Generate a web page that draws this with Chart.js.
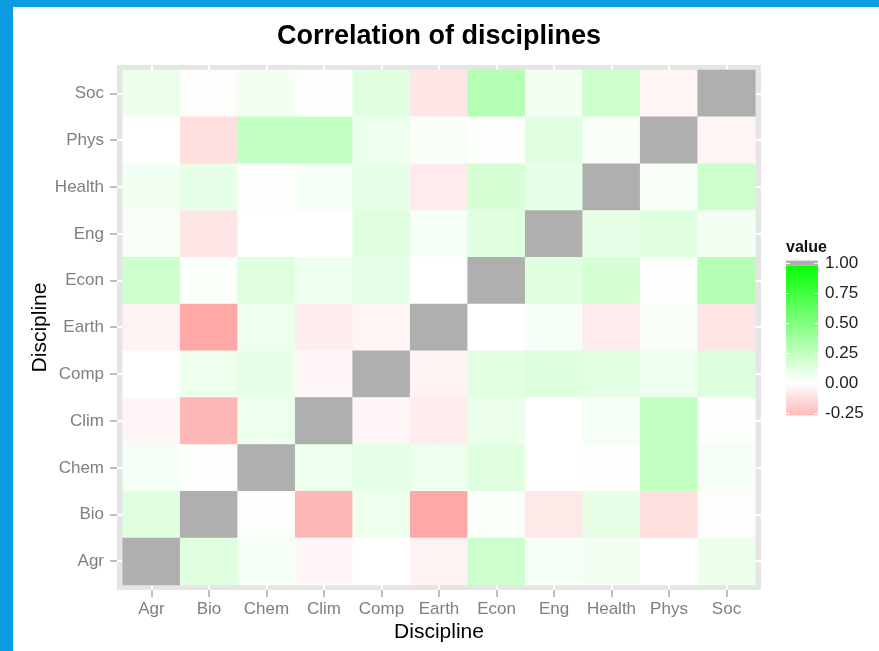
<!DOCTYPE html>
<html lang="en">
  <head>
    <meta charset="UTF-8" />
    <title>Correlation of disciplines</title>
    <script src="https://cdn.jsdelivr.net/npm/chart.js"></script>
    <style>
      body {
        margin: 0;
        padding: 0;
        background: #fff;
      }
      .frame {
        width: 866px;
        height: 644px;
        border-left: 13px solid #0a9be0;
        border-top: 7px solid #0a9be0;
      }
      canvas {
        display: block;
      }
    </style>
  </head>
  <body>
    <div class="frame"><canvas id="heat" width="866" height="644"></canvas></div>

    <script>
      const disciplines = ["Agr", "Bio", "Chem", "Clim", "Comp", "Earth", "Econ", "Eng", "Health", "Phys", "Soc"];

      // one row per discipline (y), columns in the same order (x); null = diagonal
      const agr    = [null, 0.12, 0.04, -0.03, 0.00, -0.05, 0.20, 0.04, 0.05, 0.00, 0.08];
      const bio    = [0.12, null, 0.01, -0.28, 0.07, -0.34, 0.02, -0.09, 0.10, -0.13, -0.01];
      const chem   = [0.04, 0.01, null, 0.07, 0.10, 0.07, 0.12, 0.00, 0.01, 0.24, 0.04];
      const clim   = [-0.03, -0.28, 0.07, null, -0.03, -0.07, 0.08, 0.00, 0.04, 0.24, 0.01];
      const comp   = [0.00, 0.07, 0.10, -0.03, null, -0.05, 0.11, 0.13, 0.11, 0.07, 0.13];
      const earth  = [-0.05, -0.34, 0.07, -0.07, -0.04, null, 0.00, 0.04, -0.08, 0.03, -0.10];
      const econ   = [0.20, 0.02, 0.12, 0.07, 0.10, 0.00, null, 0.12, 0.16, 0.01, 0.30];
      const eng    = [0.03, -0.10, 0.00, 0.00, 0.12, 0.04, 0.12, null, 0.10, 0.12, 0.05];
      const health = [0.05, 0.10, 0.01, 0.04, 0.10, -0.08, 0.16, 0.10, null, 0.03, 0.20];
      const phys   = [0.00, -0.13, 0.24, 0.24, 0.07, 0.03, 0.01, 0.12, 0.03, null, -0.04];
      const soc    = [0.08, -0.01, 0.05, 0.01, 0.12, -0.10, 0.30, 0.05, 0.20, -0.04, null];

      const rows = [agr, bio, chem, clim, comp, earth, econ, eng, health, phys, soc];
      const legendTicks = [1.0, 0.75, 0.5, 0.25, 0.0, -0.25];

      const naColor = "#afafaf";

      function colorFor(v) {
        if (v === null) return naColor;
        if (v >= 0) {
          const c = Math.round(255 * (1 - v));
          return `rgb(${c},255,${c})`;
        }
        const c = Math.round(255 * (1 + v));
        return `rgb(255,${c},${c})`;
      }

      const datasets = rows.map((vals, r) => ({
        label: disciplines[r],
        data: vals.map((v, c) => ({ x: c, y: [r - 0.5, r + 0.5] })),
        backgroundColor: vals.map(colorFor),
        borderWidth: 0,
        grouped: false,
        barPercentage: 1,
        categoryPercentage: 1,
      }));

      // grey panel behind the tiles
      const panelBg = {
        id: "panelBg",
        beforeDraw(chart) {
          const { ctx, chartArea: a } = chart;
          ctx.save();
          ctx.fillStyle = "#e5e5e5";
          ctx.fillRect(a.left, a.top, a.right - a.left, a.bottom - a.top);
          ctx.restore();
        },
      };

      // ggplot-like colourbar legend
      const colorBar = {
        id: "colorBar",
        afterDraw(chart) {
          const { ctx, chartArea: a } = chart;
          const x = a.right + 25;
          const w = 32;
          const y0 = a.top + 318; // value 0
          const k = 120; // px per unit
          const lo = -0.27, hi = 0.98;
          ctx.save();
          const grad = ctx.createLinearGradient(0, y0 - k * hi, 0, y0 - k * lo);
          for (let i = 0; i <= 50; i++) {
            const v = hi - (hi - lo) * (i / 50);
            grad.addColorStop(i / 50, colorFor(v));
          }
          ctx.fillStyle = grad;
          ctx.fillRect(x, y0 - k * hi, w, k * (hi - lo));
          ctx.fillStyle = naColor;
          ctx.fillRect(x, y0 - k * 1.02, w, k * 0.04);

          ctx.strokeStyle = "rgba(255,255,255,0.9)";
          ctx.lineWidth = 1;
          ctx.font = "17px 'Liberation Sans', Arial, sans-serif";
          ctx.fillStyle = "#222";
          ctx.textAlign = "left";
          ctx.textBaseline = "middle";
          legendTicks.forEach((t) => {
            const y = Math.round(y0 - k * t) + 0.5;
            ctx.beginPath();
            ctx.moveTo(x, y);
            ctx.lineTo(x + 4, y);
            ctx.moveTo(x + w - 4, y);
            ctx.lineTo(x + w, y);
            ctx.stroke();
            ctx.fillText(t.toFixed(2), x + 39, y);
          });

          ctx.font = "bold 16px 'Liberation Sans', Arial, sans-serif";
          ctx.fillStyle = "#111";
          ctx.fillText("value", x, y0 - k * 1.02 - 13);
          ctx.restore();
        },
      };

      const tickFont = { family: "'Liberation Sans', Arial, sans-serif", size: 17 };
      const titleFont = { family: "'Liberation Sans', Arial, sans-serif", size: 21 };

      new Chart(document.getElementById("heat"), {
        type: "bar",
        data: { datasets },
        plugins: [panelBg, colorBar],
        options: {
          responsive: false,
          animation: false,
          layout: { padding: { left: 0, top: 0, bottom: 0, right: 118 } },
          plugins: {
            legend: { display: false },
            tooltip: { enabled: false },
            title: {
              display: true,
              text: "Correlation of disciplines",
              fullSize: false,
              color: "#000",
              font: { family: "'Liberation Sans', Arial, sans-serif", size: 27, weight: "bold" },
              padding: { top: 13.5, bottom: 12.1 },
            },
          },
          scales: {
            x: {
              type: "linear",
              min: -0.6,
              max: 10.6,
              offset: false,
              afterBuildTicks(scale) {
                scale.ticks = disciplines.map((_, i) => ({ value: i }));
              },
              afterFit(scale) {
                scale.height = 61;
              },
              ticks: {
                autoSkip: false,
                maxRotation: 0,
                padding: 2,
                color: "#7f7f7f",
                font: tickFont,
                callback: (v, i) => disciplines[i],
              },
              grid: {
                offset: false,
                color: "#fff",
                lineWidth: 2,
                tickColor: "#7f7f7f",
                tickLength: 7,
                tickWidth: 1,
              },
              border: { display: false },
              title: {
                display: true,
                text: "Discipline",
                color: "#000",
                font: titleFont,
                padding: { top: 2, bottom: 6.4 },
              },
            },
            y: {
              type: "linear",
              min: -0.61,
              max: 10.61,
              afterBuildTicks(scale) {
                scale.ticks = disciplines.map((_, i) => ({ value: i }));
              },
              afterFit(scale) {
                scale.width = 104;
              },
              ticks: {
                autoSkip: false,
                padding: 6,
                color: "#7f7f7f",
                font: tickFont,
                callback: (v, i) => disciplines[i],
              },
              grid: {
                color: "#fff",
                lineWidth: 2,
                tickColor: "#7f7f7f",
                tickLength: 7,
                tickWidth: 1,
              },
              border: { display: false },
              title: {
                display: true,
                text: "Discipline",
                color: "#000",
                font: titleFont,
                padding: { top: 14.4, bottom: 2 },
              },
            },
          },
        },
      });
    </script>
  </body>
</html>
